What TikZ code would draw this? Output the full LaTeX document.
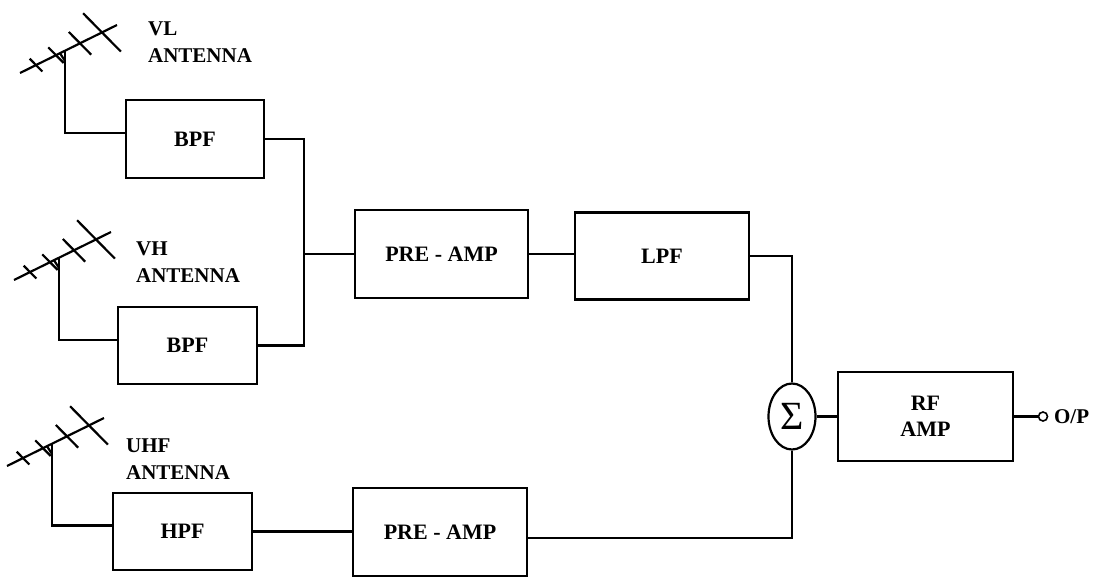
\documentclass[tikz,border=0pt]{standalone}
\usepackage{fontspec}
\setmainfont{Liberation Serif}
\usetikzlibrary{shapes.geometric}
\begin{document}
\begin{tikzpicture}[x=1pt,y=-1pt, line width=2.2pt,
  blk/.style={draw, rectangle, inner sep=0pt, align=center, font=\bfseries\fontsize{22}{26}\selectfont},
  lbl/.style={anchor=base west, align=left, inner sep=0pt, font=\bfseries\fontsize{21}{27}\selectfont},
  antenna/.pic={
    \draw (0,0) -- (97,-48);
    \foreach \t/\h in {16/9, 36/11, 60/16, 82/27} {
      \draw ({\t-0.70*\h},{-0.4948*\t-0.71*\h}) -- ({\t+0.70*\h},{-0.4948*\t+0.71*\h});
    }
    \draw (40,-19.8) -- (45,-12);
    \coordinate (-feed) at (45,-22.3);
  }]
\useasboundingbox (0,0) rectangle (1106,578);

% antennas
\pic (vl) at (20,73) {antenna};
\pic (vh) at (14,280) {antenna};
\pic (uhf) at (7,466) {antenna};

\node[lbl] (vltxt) at (147,63) {VL\\ANTENNA};
\node[lbl] (vhtxt) at (135,282) {VH\\ANTENNA};
\node[lbl] (uhftxt) at (125,479) {UHF\\ANTENNA};

% blocks
\node[blk, minimum width=138pt, minimum height=78pt] (bpf1) at (195,139) {BPF};
\node[blk, minimum width=139pt, minimum height=77pt] (bpf2) at (187.5,345.5) {BPF};
\node[blk, minimum width=139pt, minimum height=77pt] (hpf) at (182.5,531.5) {HPF};
\node[blk, minimum width=173pt, minimum height=88pt] (pre1) at (441.5,254) {PRE - AMP};
\node[blk, minimum width=174pt, minimum height=87pt] (lpf) at (662,256) {LPF};
\node[blk, minimum width=174pt, minimum height=88pt] (pre2) at (440,532) {PRE - AMP};
\node[blk, minimum width=175pt, minimum height=89pt] (rf) at (925.5,416.5) {RF\\AMP};
\node[draw, ellipse, minimum width=47pt, minimum height=66pt, inner sep=0pt,
      font=\fontsize{40}{40}\selectfont] (sig) at (792,416.5) {Σ};
\node[draw, circle, minimum size=9pt, inner sep=0pt, line width=1.6pt] (op) at (1043,416.5) {};
\node[lbl, anchor=west] (optxt) at (1053,416.5) {O/P};

\coordinate (j) at (304,254);

% connectors
\draw (vl-feed) |- ([yshift=6pt]bpf1.west);
\draw (vh-feed) |- ([yshift=5.5pt]bpf2.west);
\draw (uhf-feed) |- ([yshift=6pt]hpf.west);
\draw (bpf1.east) -| (j) |- (bpf2.east);
\draw (j) -- (j -| pre1.west);
\draw (pre1.east) -- (pre1.east -| lpf.west);
\draw (lpf.east) -| (sig.north);
\draw (hpf.east) -- (hpf.east -| pre2.west);
\draw ([yshift=-6pt]pre2.east) -| (sig.south);
\draw (sig.east) -- (rf.west);
\draw (rf.east) -- (op.west);
\end{tikzpicture}
\end{document}
